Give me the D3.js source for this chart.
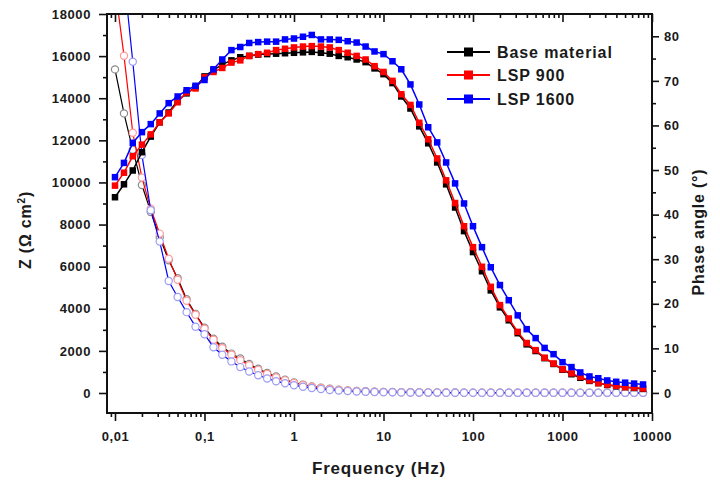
<!DOCTYPE html>
<html>
<head>
<meta charset="utf-8">
<script src="https://cdn.jsdelivr.net/npm/d3@7"></script>
<style>
  html, body { margin: 0; padding: 0; background: #fff; }
  svg { display: block; font-family: "Liberation Sans", Arial, sans-serif; }
  .tick text { font-size: 13px; font-weight: bold; fill: #1a1a1a; letter-spacing: 0.6px; }
</style>
</head>
<body>
<svg id="chart" width="720" height="480"></svg>
<script>
// Frequencies of the impedance sweep (Hz)
const freqs = [
  0.01, 0.0126, 0.0158, 0.02, 0.0251, 0.0316, 0.0398, 0.0501, 0.0631, 0.0794,
  0.1, 0.126, 0.158, 0.2, 0.251, 0.316, 0.398, 0.501, 0.631, 0.794,
  1, 1.26, 1.58, 2, 2.51, 3.16, 3.98, 5.01, 6.31, 7.94,
  10, 12.6, 15.8, 20, 25.1, 31.6, 39.8, 50.1, 63.1, 79.4,
  100, 126, 158, 200, 251, 316, 398, 501, 631, 794,
  1000, 1260, 1580, 2000, 2510, 3160, 3980, 5010, 6310, 7940
];

const seriesNames = ["Base material", "LSP 900", "LSP 1600"];

// Impedance modulus |Z| (Ω cm²)
const zBase = [
  15370, 13280, 11550, 9880, 8600, 7400, 6300, 5450, 4450, 3750,
  3100, 2580, 2200, 1870, 1640, 1380, 1150, 950, 780, 630,
  500, 400, 315, 250, 200, 160, 125, 100, 80, 65,
  55, 47, 40, 35, 31, 28, 25, 23, 21, 20,
  19, 18, 17, 16, 15, 15, 14, 14, 13, 13,
  13, 12, 12, 12, 12, 11, 11, 11, 11, 11
];
const zLsp900 = [
  19300, 16020, 12360, 10230, 8750, 7570, 6380, 5380, 4380, 3720,
  3050, 2530, 2130, 1820, 1560, 1320, 1100, 900, 740, 600,
  480, 380, 300, 240, 190, 150, 118, 92, 74, 60,
  50, 43, 37, 32, 28, 25, 23, 21, 19, 18,
  17, 16, 15, 15, 14, 14, 13, 13, 13, 12,
  12, 12, 12, 11, 11, 11, 11, 11, 10, 10
];
const zLsp1600 = [
  24000, 19800, 15730, 11300, 8680, 7190, 5320, 4560, 3840, 3150,
  2790, 2170, 1820, 1500, 1230, 1020, 840, 690, 560, 460,
  370, 295, 235, 185, 145, 115, 90, 72, 58, 48,
  40, 34, 29, 25, 22, 20, 18, 16, 15, 14,
  13, 12, 12, 11, 11, 10, 10, 10, 9, 9,
  9, 9, 8, 8, 8, 8, 8, 8, 8, 8
];

// Phase angle (degrees)
const phaseBase = [
  43.9, 46.8, 49.9, 54.0, 57.5, 60.7, 62.9, 65.6, 67.2, 68.6,
  71.0, 72.4, 73.7, 74.6, 75.3, 75.6, 75.9, 76.0, 76.1, 76.2,
  76.3, 76.4, 76.5, 76.3, 76.1, 75.6, 75.3, 74.8, 74.2, 72.8,
  71.5, 69.5, 66.5, 63.8, 59.8, 56.0, 51.7, 46.8, 41.6, 36.3,
  31.6, 27.3, 23.0, 19.2, 16.3, 13.4, 10.9, 9.4, 7.8, 6.5,
  5.2, 4.2, 3.4, 2.7, 2.2, 1.8, 1.5, 1.3, 1.1, 0.9
];
const phaseLsp900 = [
  46.5, 49.4, 53.1, 55.7, 58.0, 60.7, 62.7, 65.2, 67.4, 68.3,
  70.8, 72.0, 72.9, 74.1, 74.6, 75.6, 76.0, 76.3, 76.9, 77.2,
  77.5, 77.7, 77.8, 77.7, 77.5, 76.9, 76.3, 75.6, 74.8, 73.3,
  72.0, 70.0, 67.0, 64.6, 60.6, 56.9, 52.6, 47.7, 42.6, 37.4,
  32.7, 28.3, 23.8, 19.7, 16.7, 13.7, 11.2, 9.6, 7.9, 6.6,
  5.3, 4.4, 3.6, 2.8, 2.2, 1.9, 1.6, 1.3, 1.2, 1.0
];
const phaseLsp1600 = [
  48.4, 51.6, 56.1, 58.5, 60.3, 62.7, 65.0, 66.5, 67.9, 68.9,
  70.2, 72.6, 74.8, 76.9, 77.6, 78.5, 78.7, 78.8, 78.8, 79.3,
  79.5, 79.9, 80.3, 79.3, 79.3, 79.2, 78.9, 78.6, 77.7, 76.6,
  76.0, 74.4, 72.6, 69.2, 64.7, 59.6, 56.2, 51.7, 47.0, 42.5,
  37.4, 32.7, 28.2, 24.2, 20.8, 17.4, 14.3, 12.3, 10.1, 8.7,
  6.9, 5.8, 4.6, 3.7, 3.3, 2.8, 2.5, 2.3, 2.1, 1.9
];

// Axis ticks
const freqTicks = [0.01, 0.1, 1, 10, 100, 1000, 10000];
const freqTickLabels = ["0,01", "0,1", "1", "10", "100", "1000", "10000"];
const zTicks = [0, 2000, 4000, 6000, 8000, 10000, 12000, 14000, 16000, 18000];
const phaseTicks = [0, 10, 20, 30, 40, 50, 60, 70, 80];

// Styling
const lineColors = ["#000000", "#ff0000", "#0000ff"];
const circleColors = ["#8a8a8a", "#ff9a9a", "#9c9cf5"];

const svg = d3.select("#chart");
const plotLeft = 107, plotRight = 652, plotTop = 14, plotBottom = 413;

const x = d3.scaleLog().domain([0.008141, 10000]).range([plotLeft, plotRight]);
const yZ = d3.scaleLinear().domain([-950, 18000]).range([plotBottom, plotTop]);
const yP = d3.scaleLinear().domain([-4.5, 85]).range([plotBottom, plotTop]);

svg.append("defs").append("clipPath").attr("id", "plotClip")
  .append("rect").attr("x", plotLeft).attr("y", plotTop)
  .attr("width", plotRight - plotLeft).attr("height", plotBottom - plotTop);

const plot = svg.append("g").attr("clip-path", "url(#plotClip)");

const zSeries = [zBase, zLsp900, zLsp1600];
const phaseSeries = [phaseBase, phaseLsp900, phaseLsp1600];

// |Z| curves: thin lines with open circles
zSeries.forEach((vals, i) => {
  const pts = freqs.map((f, j) => [f, vals[j]]);
  plot.append("path")
    .datum(pts)
    .attr("fill", "none")
    .attr("stroke", lineColors[i])
    .attr("stroke-width", 1.2)
    .attr("d", d3.line().x(d => x(d[0])).y(d => yZ(d[1])));
  plot.append("g").selectAll("circle").data(pts).join("circle")
    .attr("cx", d => x(d[0])).attr("cy", d => yZ(d[1]))
    .attr("r", 3.6)
    .attr("fill", "#fff")
    .attr("stroke", circleColors[i])
    .attr("stroke-width", 1.2);
});

// Phase curves: lines with filled squares
phaseSeries.forEach((vals, i) => {
  const pts = freqs.map((f, j) => [f, vals[j]]);
  plot.append("path")
    .datum(pts)
    .attr("fill", "none")
    .attr("stroke", lineColors[i])
    .attr("stroke-width", 1.5)
    .attr("d", d3.line().x(d => x(d[0])).y(d => yP(d[1])));
  const s = 6.5;
  plot.append("g").selectAll("rect").data(pts).join("rect")
    .attr("x", d => x(d[0]) - s / 2).attr("y", d => yP(d[1]) - s / 2)
    .attr("width", s).attr("height", s)
    .attr("fill", lineColors[i]);
});

// Minor tick values
const minorFreq = [];
[0.001, 0.01, 0.1, 1, 10, 100, 1000].forEach(dec => {
  for (let m = 2; m <= 9; m++) {
    const v = dec * m;
    if (v >= 0.008141 && v <= 10000) minorFreq.push(v);
  }
});
const minorZ = d3.range(1000, 18000, 2000);
const minorP = d3.range(5, 85, 10);

function styleAxis(g) {
  g.select(".domain").remove();
  g.selectAll(".tick line").attr("stroke", "#111").attr("stroke-width", 1.6);
}

// Bottom axis
svg.append("g").attr("transform", `translate(0,${plotBottom})`)
  .call(d3.axisBottom(x).tickValues(freqTicks)
    .tickFormat((d, i) => freqTickLabels[i]).tickSize(8).tickPadding(11))
  .call(styleAxis);
svg.append("g").attr("transform", `translate(0,${plotBottom})`)
  .call(d3.axisBottom(x).tickValues(minorFreq).tickFormat("").tickSize(4))
  .call(styleAxis);

// Top axis (inward ticks, no labels)
svg.append("g").attr("transform", `translate(0,${plotTop})`)
  .call(d3.axisTop(x).tickValues(freqTicks).tickFormat("").tickSize(-8))
  .call(styleAxis);
svg.append("g").attr("transform", `translate(0,${plotTop})`)
  .call(d3.axisTop(x).tickValues(minorFreq).tickFormat("").tickSize(-4))
  .call(styleAxis);

// Left axis |Z|
svg.append("g").attr("transform", `translate(${plotLeft},0)`)
  .call(d3.axisLeft(yZ).tickValues(zTicks).tickFormat(d3.format("d")).tickSize(8).tickPadding(8))
  .call(styleAxis);
svg.append("g").attr("transform", `translate(${plotLeft},0)`)
  .call(d3.axisLeft(yZ).tickValues(minorZ).tickFormat("").tickSize(4))
  .call(styleAxis);

// Right axis phase
svg.append("g").attr("transform", `translate(${plotRight},0)`)
  .call(d3.axisRight(yP).tickValues(phaseTicks).tickFormat(d3.format("d")).tickSize(7).tickPadding(5))
  .call(styleAxis);
svg.append("g").attr("transform", `translate(${plotRight},0)`)
  .call(d3.axisRight(yP).tickValues(minorP).tickFormat("").tickSize(4))
  .call(styleAxis);

// Frame
svg.append("rect")
  .attr("x", plotLeft).attr("y", plotTop)
  .attr("width", plotRight - plotLeft).attr("height", plotBottom - plotTop)
  .attr("fill", "none").attr("stroke", "#111").attr("stroke-width", 2);

// Axis titles
const titleStyle = sel => sel.attr("font-weight", "bold").attr("fill", "#1a1a1a")
  .attr("text-anchor", "middle").style("letter-spacing", "0.8px");

svg.append("text").attr("x", 379).attr("y", 474)
  .attr("font-size", 17).text("Frequency (Hz)").call(titleStyle);

svg.append("text").attr("transform", "translate(31,230) rotate(-90)")
  .attr("font-size", 16).call(titleStyle)
  .html('Z (Ω cm<tspan dy="-6" font-size="10">2</tspan><tspan dy="6">)</tspan>');

svg.append("text").attr("transform", "translate(704,232) rotate(-90)")
  .attr("font-size", 16).text("Phase angle (°)").call(titleStyle);

// Legend
const legendRows = [52, 75, 99];
const legend = svg.append("g");
seriesNames.forEach((name, i) => {
  const g = legend.append("g").attr("transform", `translate(0,${legendRows[i]})`);
  g.append("line").attr("x1", 447).attr("x2", 490).attr("y1", 0).attr("y2", 0)
    .attr("stroke", lineColors[i]).attr("stroke-width", 2);
  g.append("rect").attr("x", 468.5 - 4.5).attr("y", -4.5).attr("width", 9).attr("height", 9)
    .attr("fill", lineColors[i]);
  g.append("text").attr("x", 497).attr("y", 0).attr("dy", "0.36em")
    .attr("font-size", 16).attr("font-weight", "bold").attr("fill", "#1a1a1a")
    .style("letter-spacing", "0.9px").text(name);
});
</script>
</body>
</html>
